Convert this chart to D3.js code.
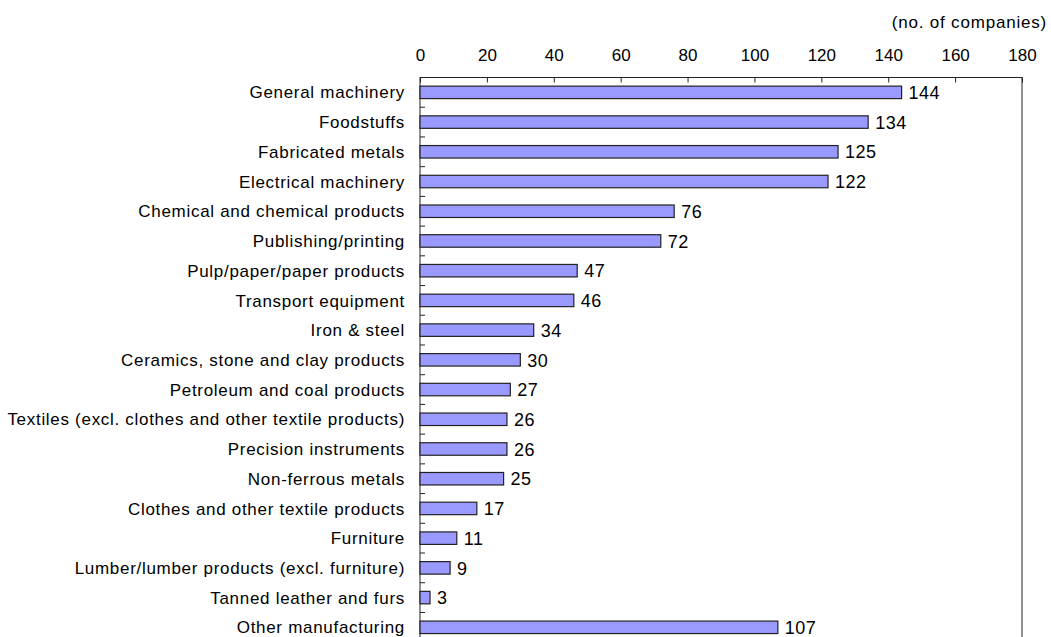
<!DOCTYPE html>
<html>
<head>
<meta charset="utf-8">
<script src="https://cdn.jsdelivr.net/npm/d3@7"></script>
<style>
  html, body { margin: 0; padding: 0; background: #fff; }
  svg { display: block; font-family: "Liberation Sans", Arial, sans-serif; }
</style>
</head>
<body>
<svg id="chart" width="1051" height="637"></svg>
<script>
// Manufacturing industries and number of companies
const categories = [
  "General machinery",
  "Foodstuffs",
  "Fabricated metals",
  "Electrical machinery",
  "Chemical and chemical products",
  "Publishing/printing",
  "Pulp/paper/paper products",
  "Transport equipment",
  "Iron & steel",
  "Ceramics, stone and clay products",
  "Petroleum and coal products",
  "Textiles (excl. clothes and other textile products)",
  "Precision instruments",
  "Non-ferrous metals",
  "Clothes and other textile products",
  "Furniture",
  "Lumber/lumber products (excl. furniture)",
  "Tanned leather and furs",
  "Other manufacturing"
];
const companies = [144, 134, 125, 122, 76, 72, 47, 46, 34, 30, 27, 26, 26, 25, 17, 11, 9, 3, 107];
const tickValues = [0, 20, 40, 60, 80, 100, 120, 140, 160, 180];
const unitLabel = "(no. of companies)";

const svg = d3.select("#chart");
const plotLeft = 420, plotRight = 1022, plotTop = 77.5, band = 29.72;
const plotBottom = plotTop + band * categories.length;

const x = d3.scaleLinear().domain([0, 180]).range([plotLeft, plotRight]);
const y = d3.scaleBand().domain(categories).range([plotTop, plotBottom]).paddingInner(0.58).paddingOuter(0.29);

// plot frame
svg.append("rect")
  .attr("x", plotLeft).attr("y", plotTop)
  .attr("width", plotRight - plotLeft).attr("height", plotBottom - plotTop)
  .attr("fill", "none").attr("stroke", "#222").attr("stroke-width", 1);

// top value axis, ticks pointing into the plot
const xAxis = svg.append("g")
  .attr("transform", `translate(0,${plotTop})`)
  .call(d3.axisTop(x).tickValues(tickValues).tickSizeInner(-5).tickSizeOuter(0).tickPadding(17));
xAxis.select(".domain").remove();
xAxis.selectAll("line").attr("stroke", "#222");
xAxis.selectAll("text").attr("font-size", 17).attr("fill", "#000")
  .attr("font-family", "'Liberation Sans', Arial, sans-serif");

// category separators on the left edge
svg.append("g").selectAll("line")
  .data(d3.range(1, categories.length))
  .join("line")
  .attr("x1", plotLeft).attr("x2", plotLeft + 5)
  .attr("y1", i => plotTop + i * y.step())
  .attr("y2", i => plotTop + i * y.step())
  .attr("stroke", "#222");

// category labels
svg.append("g").selectAll("text")
  .data(categories)
  .join("text")
  .attr("x", plotLeft - 15)
  .attr("y", d => y(d) + y.bandwidth() / 2)
  .attr("dy", "0.36em")
  .attr("text-anchor", "end")
  .attr("font-size", 17)
  .attr("letter-spacing", "0.7px")
  .attr("fill", "#000")
  .text(d => d);

// bars
svg.append("g").selectAll("rect")
  .data(categories)
  .join("rect")
  .attr("x", x(0))
  .attr("y", d => y(d))
  .attr("width", (d, i) => x(companies[i]) - x(0))
  .attr("height", y.bandwidth())
  .attr("fill", "#9999ff")
  .attr("stroke", "#222")
  .attr("stroke-width", 1.2);

// value labels
svg.append("g").selectAll("text")
  .data(categories)
  .join("text")
  .attr("x", (d, i) => x(companies[i]) + 7)
  .attr("y", d => y(d) + y.bandwidth() / 2)
  .attr("dy", "0.37em")
  .attr("font-size", 18)
  .attr("letter-spacing", "0.5px")
  .attr("fill", "#000")
  .text((d, i) => companies[i]);

// unit label
svg.append("text")
  .attr("x", 1047).attr("y", 28)
  .attr("text-anchor", "end")
  .attr("font-size", 17)
  .attr("letter-spacing", "0.8px")
  .attr("fill", "#000")
  .text(unitLabel);
</script>
</body>
</html>
